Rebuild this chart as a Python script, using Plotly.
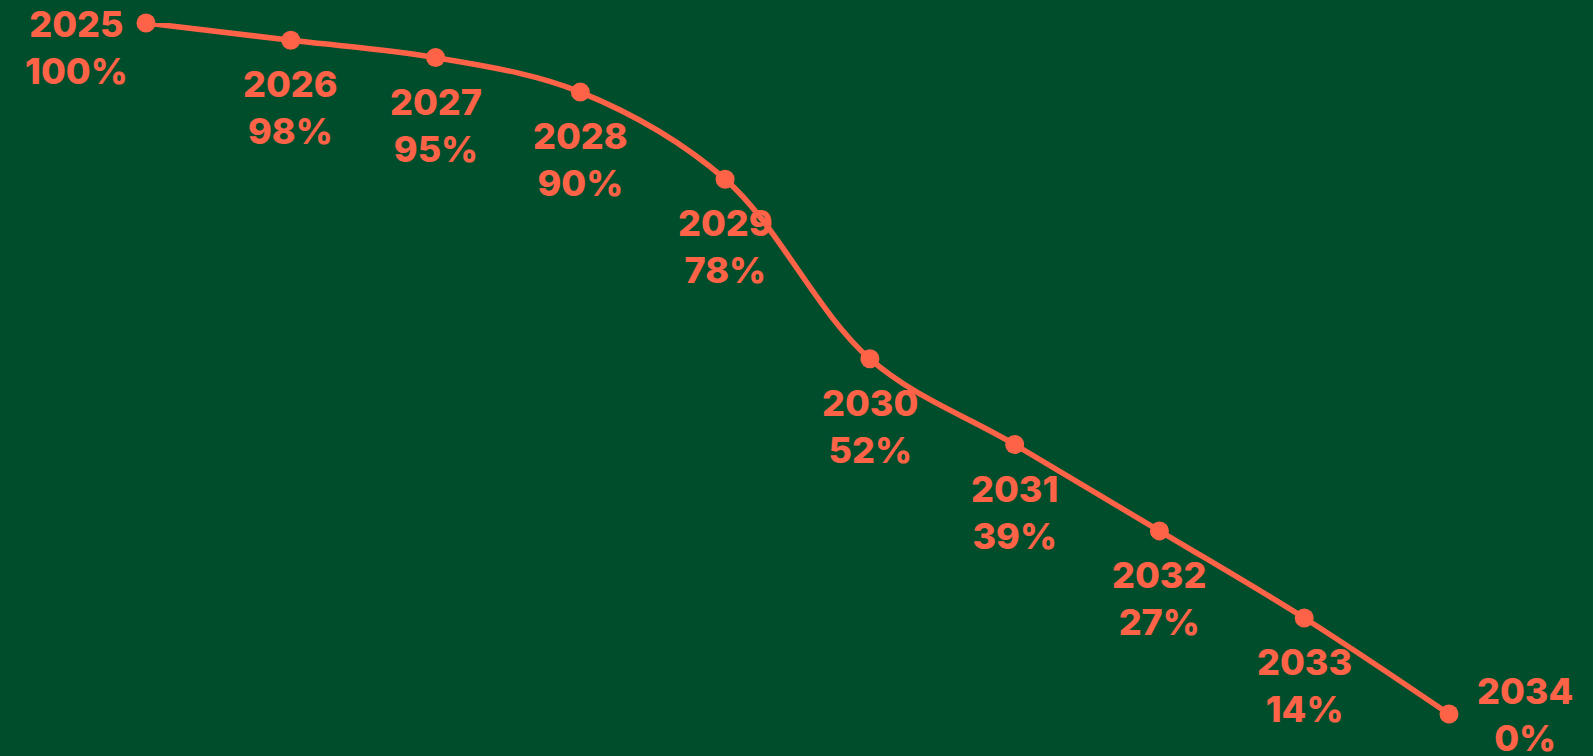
import plotly.graph_objects as go

years = [2025, 2026, 2027, 2028, 2029, 2030, 2031, 2032, 2033, 2034]
values = [100, 97.5, 95, 90, 77.4, 51.4, 39, 26.5, 13.9, 0]
label_pcts = [100, 98, 95, 90, 78, 52, 39, 27, 14, 0]
labels = [f"{y}<br>{p}%" for y, p in zip(years, label_pcts)]

BG = "#004D2C"
CORAL = "#FF6347"
FONT = "Inter"

fig = go.Figure()
fig.add_trace(go.Scatter(
    x=years, y=values, mode="lines+markers",
    line=dict(color=CORAL, width=5.5, shape="spline", smoothing=1),
    marker=dict(color=CORAL, size=19),
    cliponaxis=False, hoverinfo="skip",
))

n = len(years)
for i, (x, y, t) in enumerate(zip(years, values, labels)):
    if i == 0:
        ann = dict(xanchor="right", yanchor="top", xshift=-16, yshift=23)
    elif i == n - 1:
        ann = dict(xanchor="left", yanchor="middle", xshift=26, yshift=0)
    else:
        ann = dict(xanchor="center", yanchor="top", xshift=0, yshift=-20)
    fig.add_annotation(x=x, y=y, text=t, showarrow=False, align="center",
                       font=dict(family=FONT, size=36, color=CORAL, weight=800),
                       **ann)

fig.update_layout(
    width=1593, height=756,
    paper_bgcolor=BG, plot_bgcolor=BG,
    margin=dict(l=146, r=144, t=23, b=42),
    showlegend=False,
    xaxis=dict(range=[2025, 2034], visible=False, fixedrange=True),
    yaxis=dict(range=[0, 100], visible=False, fixedrange=True),
)

fig.write_html("out.html", config={"displayModeBar": False},
               post_script="document.body.style.margin='0';document.body.style.background='%s';" % BG)
